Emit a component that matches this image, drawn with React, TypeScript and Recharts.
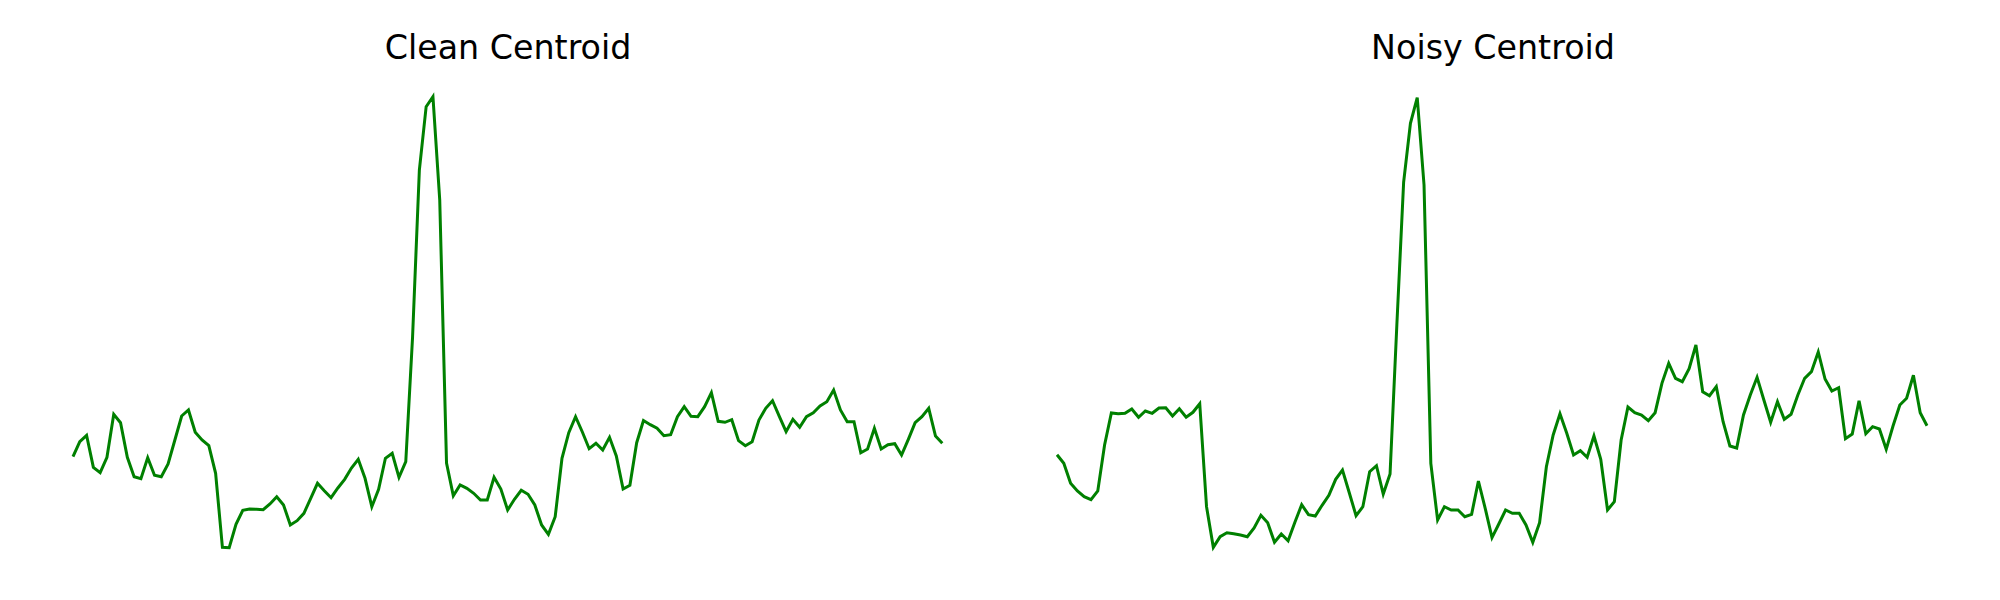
import React from "react";
import { LineChart, Line, XAxis, YAxis } from "recharts";

// Spectral centroid traces (arbitrary units)
const cleanCentroid: number[] = [
  103.3, 118.3, 124.7, 92.7, 87.3, 102.7, 145.7, 137.3, 102.7, 83.3,
  81.3, 102.3, 84.7, 83.3, 96, 120, 144, 150, 127.7, 120,
  114.3, 86.7, 12.7, 12.3, 35.7, 49.7, 51, 50.7, 50.3, 56,
  63.3, 55, 35, 39.3, 46.7, 61.7, 76.7, 69.3, 62.3, 72,
  80.7, 92, 100.7, 81.7, 53.3, 70.7, 101.7, 106.7, 82.7, 98.3,
  223, 390, 453.3, 463.3, 360, 97, 64.3, 75, 71.7, 66.7,
  60, 60, 82.7, 71, 50, 60.7, 69.7, 65.7, 55, 35,
  25.7, 43.3, 101.7, 127.3, 143.3, 128, 111.3, 116.7, 110, 122.7,
  104, 71, 74.7, 117.3, 139.5, 135.3, 131.7, 124.3, 125.3, 143.3,
  153.3, 143.7, 143.3, 153.3, 167.3, 138.7, 137.7, 140.3, 119.3, 114.3,
  118.3, 140, 151.7, 159.3, 143.7, 128.3, 140.7, 132.7, 143.3, 147.3,
  154, 158.3, 170, 150, 138.3, 138.3, 107.3, 111, 131.7, 111,
  115.3, 116.3, 105, 120.7, 137.3, 143.3, 151.7, 124, 116.7,
];

const noisyCentroid: number[] = [
  105.3, 96.7, 76.7, 69, 63.3, 60.3, 69, 115, 147, 146.3,
  146.7, 151, 142.7, 149, 146.7, 152, 152.3, 144, 151.3, 142.7,
  147.7, 156.3, 53.3, 12.7, 23.3, 27.3, 26.3, 25, 23.3, 32,
  44.7, 37.3, 17.7, 26, 19.3, 37.7, 55.3, 45.3, 44, 54.7,
  64.7, 80.7, 90, 67.3, 44.3, 53.3, 88.3, 94.3, 66, 86,
  235, 378, 436.7, 462.3, 375, 96.5, 40, 53.3, 50, 50,
  43.3, 45.7, 79, 51.7, 22.3, 36, 50, 46.7, 46.7, 35,
  17.7, 37.3, 93.3, 125, 146.3, 126.7, 105, 109.3, 102.7, 124,
  100.7, 50, 58.3, 120, 153, 147.3, 145, 139.3, 147.3, 176.7,
  196.7, 181.7, 178.3, 191.3, 215, 168.3, 164.3, 173.3, 138.3, 114,
  112, 145, 165, 182.7, 160, 137.7, 158.3, 140.7, 145.7, 165,
  181.7, 188.3, 208, 181, 169, 172.3, 121.3, 126, 159.3, 126.3,
  133.3, 131, 110.7, 134, 155, 161.7, 184.7, 147.3, 134.3,
];

const titles: string[] = ["Clean Centroid", "Noisy Centroid"];

const toRows = (vals: number[]) => vals.map((v, i) => ({ frame: i, value: v }));

const PAD = 20;
const Panel = ({ values, plotLeft, plotWidth }: { values: number[]; plotLeft: number; plotWidth: number }) => (
  <div style={{ position: "absolute", left: plotLeft - PAD, top: 0 }}>
    <LineChart
      width={plotWidth + 2 * PAD}
      height={600}
      data={toRows(values)}
      margin={{ top: 0, right: PAD, bottom: 40, left: PAD }}
    >
      <XAxis dataKey="frame" type="number" domain={[0, values.length - 1]} hide />
      <YAxis type="number" domain={[0, 560]} hide />
      <Line
        type="linear"
        dataKey="value"
        stroke="#008000"
        strokeWidth={3}
        dot={false}
        isAnimationActive={false}
      />
    </LineChart>
  </div>
);

export default function App() {
  return (
    <div style={{ position: "absolute", left: 0, top: 0, width: 2000, height: 600, background: "#fff" }}>
      <Panel values={cleanCentroid} plotLeft={72.7} plotWidth={869.3} />
      <Panel values={noisyCentroid} plotLeft={1057.3} plotWidth={870} />
      <svg width={2000} height={600} style={{ position: "absolute", left: 0, top: 0, pointerEvents: "none" }}>
        <text x={508} y={59} textAnchor="middle" fontFamily="DejaVu Sans" fontSize={33.3} fill="#000">
          {titles[0]}
        </text>
        <text x={1493} y={59} textAnchor="middle" fontFamily="DejaVu Sans" fontSize={33.3} fill="#000">
          {titles[1]}
        </text>
      </svg>
    </div>
  );
}
